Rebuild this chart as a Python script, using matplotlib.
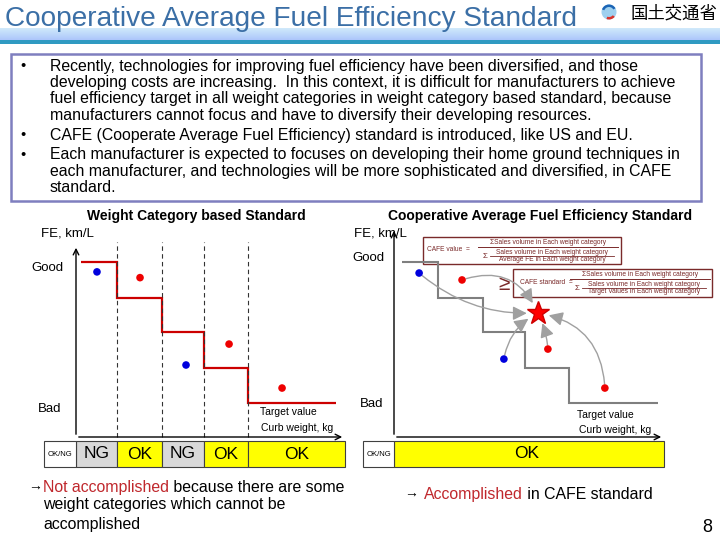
"""Cooperative Average Fuel Efficiency Standard slide"""

import matplotlib
matplotlib.use("Agg")
import matplotlib.pyplot as plt
from matplotlib.patches import Rectangle, Circle, Wedge

plt.rcParams["font.family"] = ["Liberation Sans", "DejaVu Sans"]

# weight category boundaries (arbitrary curb weight units) and target FE per category
cat_edges = [0.19, 1.52, 3.2, 4.76, 6.39, 9.67]
targets = [9.1, 7.24, 5.47, 3.59, 1.77]

# manufacturer FE in each category, weight category based standard
point_x = [0.78, 2.38, 4.09, 5.69, 7.66]
point_fe = [8.6, 8.3, 3.75, 4.84, 2.55]

# same manufacturer drawn in the CAFE panel
cafe_x = [0.83, 2.42, 3.97, 5.6, 7.71]
cafe_fe = [8.54, 8.18, 4.06, 4.58, 2.55]
cafe_value_x = 5.23
cafe_value_fe = 6.46
arrow_rad = [0.2, -0.45, -0.25, 0.1, 0.4]

bullets = [
    ["Recently, technologies for improving fuel efficiency have been diversified, and those",
     "developing costs are increasing.  In this context, it is difficult for manufacturers to achieve",
     "fuel efficiency target in all weight categories in weight category based standard, because",
     "manufacturers cannot focus and have to diversify their developing resources."],
    ["CAFE (Cooperate Average Fuel Efficiency) standard is introduced, like US and EU."],
    ["Each manufacturer is expected to focuses on developing their home ground techniques in",
     "each manufacturer, and technologies will be more sophisticated and diversified, in CAFE",
     "standard."],
]

RED_TXT = "#c0282d"
BOX_RED = "#7a2a2a"
W, H = 720, 540

fig = plt.figure(figsize=(7.2, 5.4), dpi=100)
bg = fig.add_axes([0, 0, 1, 1])
bg.set_xlim(0, W)
bg.set_ylim(H, 0)
bg.axis("off")


def px_axes(x0, y0, x1, y1):
    a = fig.add_axes([x0 / W, 1 - y1 / H, (x1 - x0) / W, (y1 - y0) / H])
    a.set_facecolor("none")
    a.axis("off")
    return a


def colored_line(x, y, parts, size=11.4):
    # write text pieces one after another on the same baseline
    t = bg.text(x, y, parts[0][0], color=parts[0][1], fontsize=size, ha="left", va="bottom")
    for s, c in parts[1:]:
        t = bg.annotate(s, xy=(1, 0), xycoords=t, color=c, fontsize=size,
                        ha="left", va="bottom")


# header
bg.text(5, 19, "Cooperative Average Fuel Efficiency Standard", fontsize=20.2,
        color="#3b6fa6", va="center", ha="left")
for i in range(12):
    c = 0.93 - i * 0.012
    bg.add_patch(Rectangle((0, 28 + i), W, 1, color=(c - 0.12, c - 0.02, 0.98), lw=0))
bg.add_patch(Rectangle((0, 40), W, 3.5, color="#2f9ac2", lw=0))
bg.add_patch(Circle((609, 12), 7.5, color="#9fd0ee", lw=0))
bg.add_patch(Wedge((609, 12), 7.5, 200, 330, width=2.5, color="#1b64b5", lw=0))
bg.add_patch(Wedge((609, 12), 7.5, 40, 110, width=2.5, color="#d9342b", lw=0))
bg.text(630, 13, "国土交通省", fontsize=12.5, va="center", ha="left",
        family=["Noto Sans CJK JP", "DejaVu Sans"])

# text box
bg.add_patch(Rectangle((11, 54), 690, 147, fill=False, ec="#7f7fbf", lw=1.8))
y = 66
for k, lines in enumerate(bullets):
    bg.text(20, y, "\u2022", fontsize=10.5, va="center", ha="left")
    for ln in lines:
        bg.text(50, y, ln, fontsize=11.4, va="center", ha="left")
        y += 16.4
    y += 3.5

# ---------------- left panel: weight category based standard ----------------
ax1 = px_axes(76, 245, 345, 437)
ax1.set_xlim(0, 10)
ax1.set_ylim(0, 10)
ax1.stairs(targets, cat_edges, baseline=None, color="#cc0000", lw=1.6)
ax1.vlines(cat_edges[1:5], 0, 10.16, colors="#333333", linestyles=(0, (4, 3)), lw=0.8,
           clip_on=False)
ok = [fe >= t for fe, t in zip(point_fe, targets)]
ax1.scatter(point_x, point_fe, s=30, c=["#ee0000" if o else "#0000dd" for o in ok],
            zorder=3, lw=0)
ax1.annotate("", xy=(0, 10), xytext=(0, 0),
             arrowprops=dict(arrowstyle="->", color="black", lw=1))
ax1.annotate("", xy=(10, 0), xytext=(0, 0),
             arrowprops=dict(arrowstyle="->", color="black", lw=1))

cell_l = [0] + cat_edges[1:5]
cell_r = cat_edges[1:5] + [10]
cell_w = [r - l for l, r in zip(cell_l, cell_r)]
ax1.bar(cell_l, -1.35, width=cell_w, bottom=-0.21, align="edge",
        color=["#ffff00" if o else "#d9d9d9" for o in ok], edgecolor="#404040", lw=0.8,
        clip_on=False)
ax1.bar([-1.19], -1.35, width=1.19, bottom=-0.21, align="edge", color="white",
        edgecolor="#404040", lw=0.8, clip_on=False)
ax1.text(-0.6, -0.9, "OK/NG", fontsize=5.5, ha="center", va="center")
for l, w_, o in zip(cell_l, cell_w, ok):
    ax1.text(l + w_ / 2, -0.9 if o else -0.85, "OK" if o else "NG", fontsize=12.5,
             ha="center", va="center")

bg.text(196, 216, "Weight Category based Standard", fontsize=10, fontweight="bold",
        ha="center", va="center")
bg.text(67, 233, "FE, km/L", fontsize=9.5, ha="center", va="center")
bg.text(47, 268, "Good", fontsize=9.5, ha="center", va="center")
bg.text(50, 409, "Bad", fontsize=9.5, ha="center", va="center")
bg.text(288, 412, "Target value", fontsize=7.5, ha="center", va="center")
bg.text(297, 428, "Curb weight, kg", fontsize=7.5, ha="center", va="center")

bg.text(28, 486, "\u2192", fontsize=10, ha="left", va="center")
colored_line(43, 495, [("Not accomplished", RED_TXT), (" because there are some", "black")])
bg.text(43, 505, "weight categories which cannot be", fontsize=11.4, ha="left", va="center")
bg.text(43, 524, "accomplished", fontsize=11.4, ha="left", va="center")

# ---------------- right panel: CAFE standard ----------------
ax2 = px_axes(394, 228, 664, 437)
ax2.set_xlim(-0.1, 9.9)
ax2.set_ylim(0, 209 / 19.2)
ax2.stairs(targets, cat_edges, baseline=None, color="#7f7f7f", lw=1.5)
cafe_ok = [fe >= t_ for fe, t_ in zip(cafe_fe, targets)]
for px_, fe, rad in zip(cafe_x, cafe_fe, arrow_rad):
    ax2.annotate("", xy=(cafe_value_x, cafe_value_fe), xytext=(px_, fe),
                 arrowprops=dict(arrowstyle="-|>,head_length=0.6,head_width=0.3",
                                 mutation_scale=14, color="#a0a0a0", lw=1,
                                 connectionstyle=f"arc3,rad={rad}", shrinkA=3, shrinkB=8))
ax2.scatter(cafe_x, cafe_fe, s=30, c=["#ee0000" if o else "#0000dd" for o in cafe_ok],
            zorder=3, lw=0)
ax2.plot([cafe_value_x], [cafe_value_fe], marker="*", ms=17, color="#ff0000", mec="#cc0000",
         zorder=4)
ax2.annotate("", xy=(-0.1, 209 / 19.2), xytext=(-0.1, 0),
             arrowprops=dict(arrowstyle="->", color="black", lw=1))
ax2.annotate("", xy=(9.9, 0), xytext=(-0.1, 0),
             arrowprops=dict(arrowstyle="->", color="black", lw=1))
ax2.bar([-0.1], -1.35, width=10.0, bottom=-0.21, align="edge", color="#ffff00",
        edgecolor="#404040", lw=0.8, clip_on=False)
ax2.bar([-1.25], -1.35, width=1.15, bottom=-0.21, align="edge", color="white",
        edgecolor="#404040", lw=0.8, clip_on=False)
ax2.text(-0.67, -0.9, "OK/NG", fontsize=5.5, ha="center", va="center")
ax2.text(4.8, -0.85, "OK", fontsize=12.5, ha="center", va="center")

bg.text(540, 216, "Cooperative Average Fuel Efficiency Standard", fontsize=10,
        fontweight="bold", ha="center", va="center")
bg.text(380, 233, "FE, km/L", fontsize=9.5, ha="center", va="center")
bg.text(368, 258, "Good", fontsize=9.5, ha="center", va="center")
bg.text(372, 404, "Bad", fontsize=9.5, ha="center", va="center")
bg.text(605, 415, "Target value", fontsize=7.5, ha="center", va="center")
bg.text(615, 430, "Curb weight, kg", fontsize=7.5, ha="center", va="center")

# formula boxes
fs = 4.8
num = "\u03a3Sales volume in Each weight category"
inner = "Sales volume in Each weight category"
for (x0, y0, x1, y1, lab, labx, den, cx) in [
        (423, 237, 621, 264, "CAFE value  =", 448, "Average FE in Each weight category", 548),
        (513, 269, 712, 297, "CAFE standard  =", 546, "Target Values in Each weight category", 640)]:
    bg.add_patch(Rectangle((x0, y0), x1 - x0, y1 - y0, fc="white", ec=BOX_RED, lw=1, zorder=5))
    ym = (y0 + y1) / 2
    bg.text(labx, ym - 1, lab, fontsize=fs, ha="center", va="center", color=BOX_RED, zorder=6)
    bg.text(cx, y0 + 6, num, fontsize=fs, ha="center", va="center", color=BOX_RED, zorder=6)
    bg.plot([cx - 70, cx + 70], [y0 + 10, y0 + 10], color=BOX_RED, lw=0.7, zorder=6)
    bg.text(cx - 63, y0 + 19, "\u03a3", fontsize=fs + 1, ha="center", va="center",
            color=BOX_RED, zorder=6)
    bg.text(cx + 4, y0 + 15, inner, fontsize=fs, ha="center", va="center", color=BOX_RED,
            zorder=6)
    bg.plot([cx - 58, cx + 66], [y0 + 18.5, y0 + 18.5], color=BOX_RED, lw=0.6, zorder=6)
    bg.text(cx + 4, y0 + 22.5, den, fontsize=fs, ha="center", va="center", color=BOX_RED,
            zorder=6)
bg.text(504, 284, "\u2265", fontsize=15, ha="center", va="center", color=BOX_RED)

bg.text(404, 493, "\u2192", fontsize=10, ha="left", va="center")
colored_line(424, 502, [("Accomplished", RED_TXT), (" in CAFE standard", "black")])

bg.text(707, 527, "8", fontsize=13, ha="center", va="center")

fig.savefig("out.png", dpi=100)
